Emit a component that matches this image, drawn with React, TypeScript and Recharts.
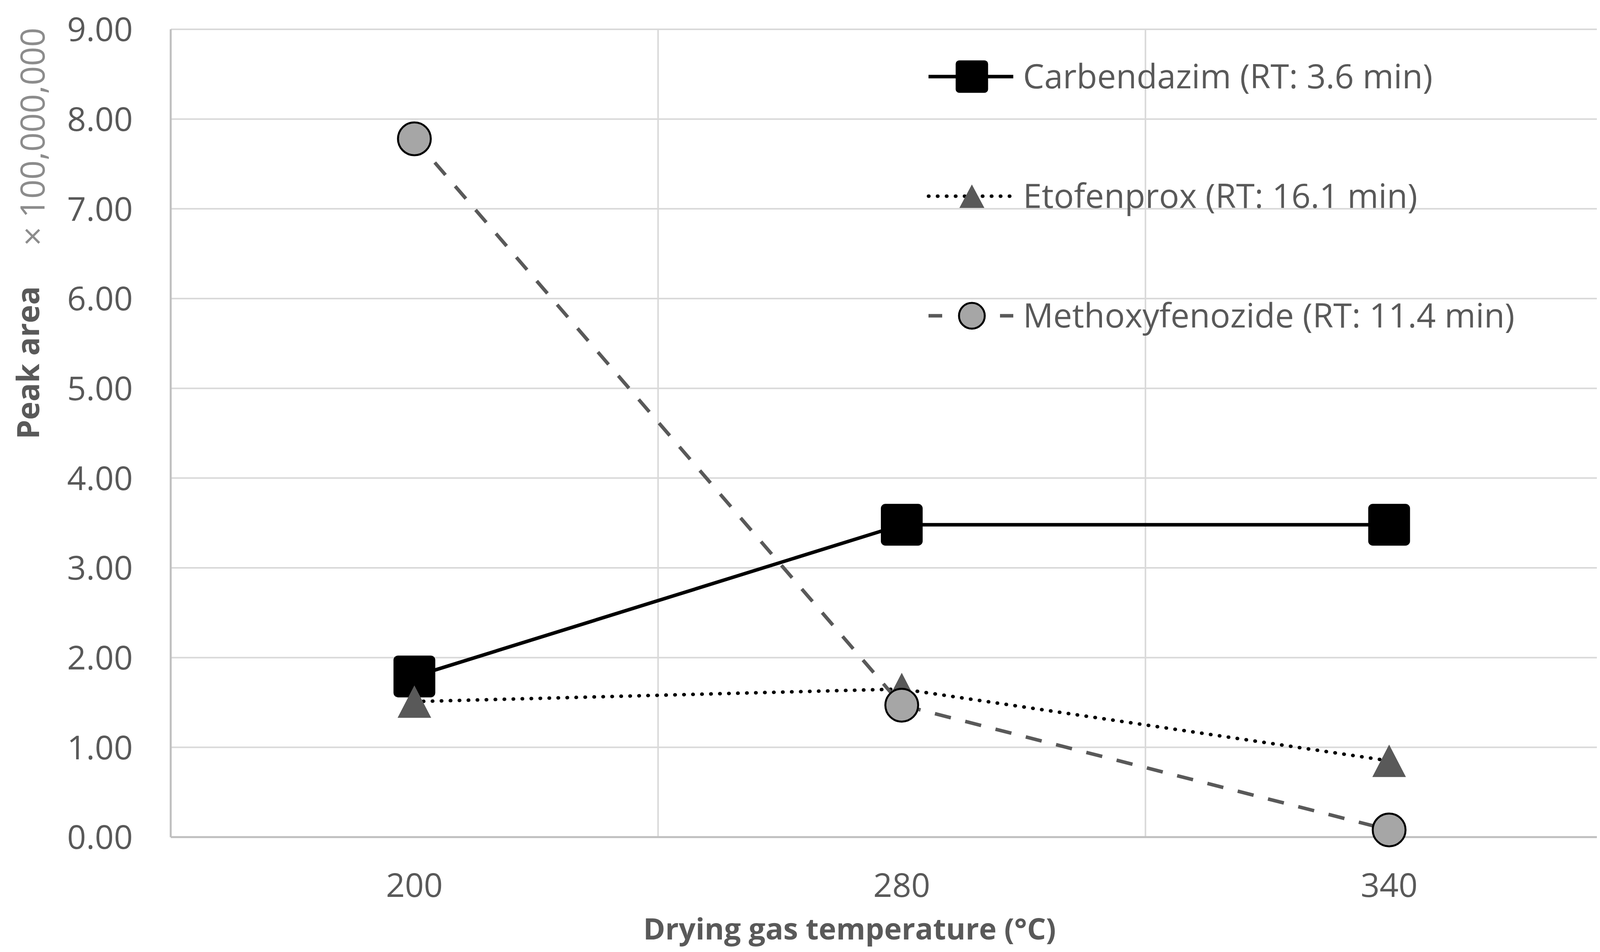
import React from 'react';
import { LineChart, Line, XAxis, YAxis, CartesianGrid, Legend, Customized } from 'recharts';

const categories = ['200', '280', '340'];
const carbendazim = [1.79, 3.48, 3.48];
const etofenprox = [1.51, 1.65, 0.85];
const methoxyfenozide = [7.78, 1.47, 0.08];
const yTicks = [0, 1, 2, 3, 4, 5, 6, 7, 8, 9];
const xTicks = [0, 1, 2];
const seriesNames = [
  'Carbendazim (RT: 3.6 min)',
  'Etofenprox (RT: 16.1 min)',
  'Methoxyfenozide (RT: 11.4 min)',
];

const data = categories.map((c, i) => ({
  x: i,
  label: c,
  carb: carbendazim[i],
  etof: etofenprox[i],
  meth: methoxyfenozide[i],
}));

const FONT = '"Open Sans", "Noto Sans", sans-serif';
const TEXT = '#595959';

const Square = (cx: number, cy: number, s: number, key?: string) => (
  <rect key={key} x={cx - s / 2} y={cy - s / 2} width={s} height={s} rx={s * 0.11} fill="#000" />
);
const Tri = (cx: number, cy: number, w: number, h: number, key?: string) => (
  <polygon
    key={key}
    points={`${cx},${cy - h / 2} ${cx + w / 2},${cy + h / 2} ${cx - w / 2},${cy + h / 2}`}
    fill="#595959"
  />
);
const Circ = (cx: number, cy: number, r: number, key?: string) => (
  <circle key={key} cx={cx} cy={cy} r={r} fill="#a6a6a6" stroke="#000" strokeWidth={5} />
);

const squareDot = (p: any) =>
  p.cx == null ? null : Square(p.cx, p.cy, 107, `sq-${p.index}`);
const triDot = (p: any) =>
  p.cx == null ? null : Tri(p.cx, p.cy, 86, 83, `tr-${p.index}`);
const circDot = (p: any) =>
  p.cx == null ? null : Circ(p.cx, p.cy, 42, `ci-${p.index}`);

const legendRows = [
  { name: seriesNames[0], stroke: '#000', dash: undefined as string | undefined, cap: 'butt', marker: 'square' },
  { name: seriesNames[1], stroke: '#000', dash: '1 22', cap: 'round', marker: 'tri' },
  { name: seriesNames[2], stroke: '#595959', dash: '42 38', cap: 'butt', marker: 'circle' },
];

const LegendContent = () => (
  <svg width={1800} height={800} style={{ overflow: 'visible' }}>
    {legendRows.map((r, i) => {
      const y = 88 + i * 306;
      return (
        <g key={r.name}>
          {r.marker === 'circle' ? (
            <>
              <line x1={29} x2={64} y1={y} y2={y} stroke={r.stroke} strokeWidth={9} />
              <line x1={212} x2={246} y1={y} y2={y} stroke={r.stroke} strokeWidth={9} />
            </>
          ) : (
            <line
              x1={29}
              x2={246}
              y1={y}
              y2={y}
              stroke={r.stroke}
              strokeWidth={9}
              strokeDasharray={r.dash}
              strokeLinecap={r.cap as any}
            />
          )}
          {r.marker === 'square' && Square(140, y, 83)}
          {r.marker === 'tri' && Tri(140, y, 64, 60)}
          {r.marker === 'circle' && Circ(140, y, 33)}
          <text x={271} y={y} dy="0.35em" fontSize={86} fill={TEXT} fontFamily={FONT}>
            {r.name}
          </text>
        </g>
      );
    })}
  </svg>
);

const Titles = () => (
  <g fontFamily={FONT}>
    <text
      transform="translate(92,920) rotate(-90)"
      textAnchor="middle"
      fontSize={79}
      fontWeight="bold"
      fill={TEXT}
    >
      Peak area
    </text>
    <text
      transform="translate(106,342) rotate(-90)"
      textAnchor="middle"
      fontSize={86}
      fill="#8c8c8c"
    >
      × 100,000,000
    </text>
    <text x={2167} y={2396} textAnchor="middle" fontSize={76} fontWeight="bold" fill={TEXT}>
      Drying gas temperature (°C)
    </text>
  </g>
);

export default function App() {
  return (
    <div style={{ width: 4193, height: 2420, background: '#fff' }}>
      <LineChart
        width={4193}
        height={2420}
        data={data}
        margin={{ top: 67, right: 21, bottom: 136, left: 0 }}
        style={{ fontFamily: FONT }}
      >
        <CartesianGrid
          stroke="#d9d9d9"
          strokeWidth={4}
          verticalValues={[-0.5, 0.5, 1.5, 2.5]}
        />
        <XAxis
          type="number"
          dataKey="x"
          domain={[-0.5, 2.5]}
          ticks={xTicks}
          interval={0}
          tickFormatter={(v: number) => categories[v] ?? ''}
          tick={{ fontSize: 85, fill: TEXT, fontFamily: FONT }}
          tickLine={false}
          tickSize={0}
          tickMargin={93}
          axisLine={{ stroke: '#bfbfbf', strokeWidth: 5 }}
          height={150}
        />
        <YAxis
          type="number"
          domain={[0, 9]}
          ticks={yTicks}
          interval={0}
          tickFormatter={(v: number) => v.toFixed(2)}
          tick={{ fontSize: 85, fill: TEXT, fontFamily: FONT }}
          tickLine={false}
          tickSize={0}
          tickMargin={97}
          axisLine={{ stroke: '#bfbfbf', strokeWidth: 5 }}
          width={429}
        />
        <Line
          dataKey="carb"
          name={seriesNames[0]}
          stroke="#000"
          strokeWidth={9}
          dot={squareDot}
          activeDot={false}
          isAnimationActive={false}
        />
        <Line
          dataKey="etof"
          name={seriesNames[1]}
          stroke="#000"
          strokeWidth={9}
          strokeDasharray="1 22"
          strokeLinecap="round"
          dot={triDot}
          activeDot={false}
          isAnimationActive={false}
        />
        <Line
          dataKey="meth"
          name={seriesNames[2]}
          stroke="#595959"
          strokeWidth={9}
          strokeDasharray="42 38"
          dot={circDot}
          activeDot={false}
          isAnimationActive={false}
        />
        <Legend
          layout="vertical"
          align="center"
          verticalAlign="middle"
          wrapperStyle={{ left: 2340, top: 100, width: 1800, height: 800 }}
          content={() => <LegendContent />}
        />
        <Customized component={Titles} />
      </LineChart>
    </div>
  );
}
